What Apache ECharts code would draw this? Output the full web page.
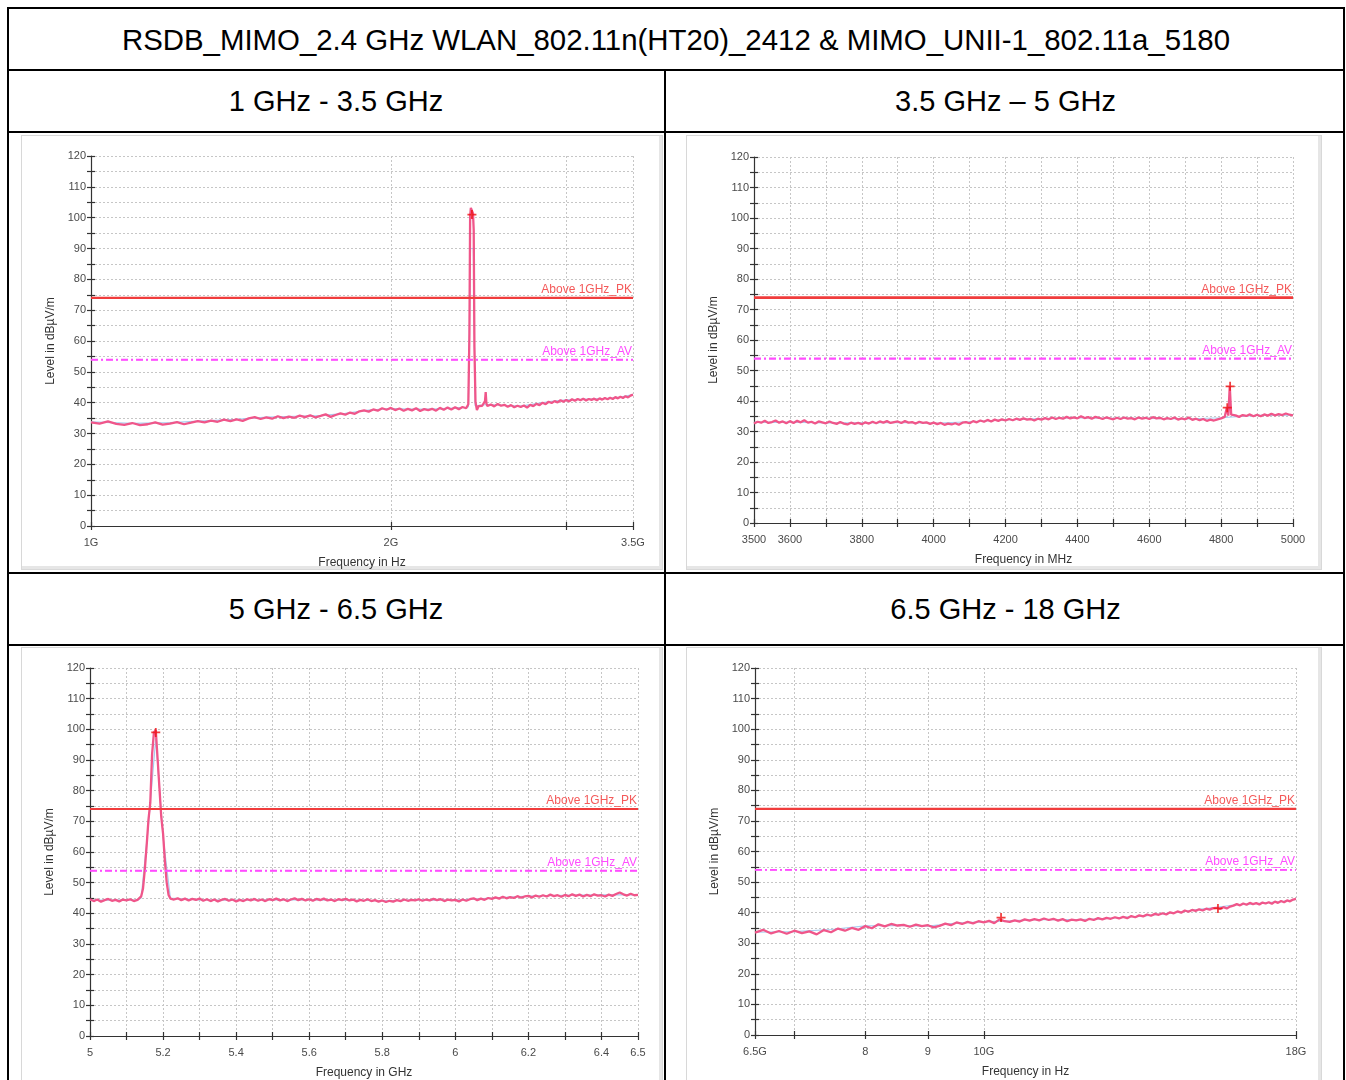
<!DOCTYPE html>
<html><head><meta charset="utf-8">
<script src="https://cdn.jsdelivr.net/npm/echarts@6/dist/echarts.min.js"></script>
<style>
body{margin:0;background:#fff;font-family:Arial,"Liberation Sans",sans-serif;}
#page{position:relative;width:1346px;height:1080px;overflow:hidden;background:#fff;}
.ln{position:absolute;background:#000;}
.txt{position:absolute;text-align:center;font-size:29px;color:#000;white-space:nowrap;font-family:Arial,"Liberation Sans",sans-serif;}
.panel{position:absolute;box-sizing:border-box;border:1px solid #d8d8d8;box-shadow:inset -3px -3px 0 #e6e6e6;background:#fff;}
.chart{position:absolute;}
</style></head><body><div id="page">
<div class="ln" style="left:7px;top:7px;width:1338px;height:2px"></div>
<div class="ln" style="left:7px;top:7px;width:2px;height:1080px"></div>
<div class="ln" style="left:1343px;top:7px;width:2px;height:1080px"></div>
<div class="ln" style="left:7px;top:69px;width:1338px;height:2px"></div>
<div class="ln" style="left:7px;top:131px;width:1338px;height:2px"></div>
<div class="ln" style="left:7px;top:572px;width:1338px;height:2px"></div>
<div class="ln" style="left:7px;top:644px;width:1338px;height:2px"></div>
<div class="ln" style="left:664px;top:69px;width:2px;height:1020px"></div>
<div class="txt" style="left:7px;top:9px;width:1338px;height:61px;line-height:61px;font-size:29.4px">RSDB_MIMO_2.4 GHz WLAN_802.11n(HT20)_2412 &amp; MIMO_UNII-1_802.11a_5180</div>
<div class="txt" style="left:7px;top:71px;width:658px;height:61px;line-height:61px">1 GHz - 3.5 GHz</div>
<div class="txt" style="left:666px;top:71px;width:679px;height:61px;line-height:61px">3.5 GHz – 5 GHz</div>
<div class="txt" style="left:7px;top:574px;width:658px;height:70px;line-height:70px">5 GHz - 6.5 GHz</div>
<div class="txt" style="left:666px;top:574px;width:679px;height:70px;line-height:70px">6.5 GHz - 18 GHz</div>
<div class="panel" style="left:21px;top:135px;width:642px;height:435px"></div>
<div class="panel" style="left:686px;top:135px;width:636px;height:435px"></div>
<div class="panel" style="left:21px;top:647px;width:642px;height:440px"></div>
<div class="panel" style="left:686px;top:647px;width:636px;height:440px"></div>
<div id="c1" class="chart" style="left:21px;top:135px;width:642px;height:435px"></div>
<div id="c2" class="chart" style="left:686px;top:135px;width:636px;height:435px"></div>
<div id="c3" class="chart" style="left:21px;top:647px;width:642px;height:440px"></div>
<div id="c4" class="chart" style="left:686px;top:647px;width:636px;height:440px"></div>
</div>
<script>
// ---------- limits ----------
const LIMIT_PK = 74;
const LIMIT_AV = 54;
const LIMIT_PK_NAME = 'Above 1GHz_PK';
const LIMIT_AV_NAME = 'Above 1GHz_AV';
const Y_TICKS = [0, 120];

// ---------- chart 1: 1 GHz - 3.5 GHz (MHz, log axis) ----------
const freq1 = [1000,1020,1040,1060,1080,1100,1120,1140,1160,1180,1200,1220,1240,1260,1280,1300,1320,1340,1360,1380,
1400,1420,1440,1460,1480,1500,1520,1540,1560,1580,1600,1620,1640,1660,1680,1700,1720,1740,1760,1780,
1800,1820,1840,1860,1880,1900,1920,1940,1960,1980,2000,2020,2040,2060,2080,2100,2120,2140,2160,2180,
2200,2220,2240,2260,2280,2300,2320,2340,2360,2380,
2392,2398,2402,2406,2410,2414,2418,2422,2426,2432,
2440,2450,2460,2470,2480,2486,2490,2494,2500,
2520,2540,2560,2580,2600,2620,2640,2660,2680,2700,2720,2740,2760,2780,2800,2820,2840,2860,2880,
2900,2920,2940,2960,2980,3000,3020,3040,3060,3080,3100,3120,3140,3160,3180,3200,3220,3240,3260,3280,
3300,3320,3340,3360,3380,3400,3420,3440,3460,3480,3500];
const level1 = [33.6,33.2,33.9,33.1,32.8,33.4,32.7,33.0,33.6,32.9,33.2,33.7,33.0,33.5,34.0,33.6,34.2,33.8,34.5,34.0,
34.6,34.1,34.9,35.3,34.7,35.2,34.8,35.6,35.0,35.5,35.1,35.8,35.3,35.9,35.2,35.7,36.2,35.4,36.0,36.5,
36.1,36.8,36.4,37.2,37.5,37.1,37.8,37.4,38.2,37.7,38.3,37.6,38.1,37.4,38.0,37.5,38.2,37.3,37.9,37.6,
38.0,37.4,38.3,37.7,38.4,37.8,38.5,37.9,38.6,38.2,
39.5,62.0,100.5,103.2,102.6,103.8,101.4,96.0,58.0,40.2,
37.6,38.9,38.3,39.0,38.6,40.5,43.4,39.8,38.9,
39.4,38.8,39.6,39.0,39.3,38.7,39.2,38.5,39.0,38.6,39.1,38.4,39.3,38.9,39.6,39.2,40.0,39.5,40.3,
39.9,40.5,40.1,40.8,40.3,40.9,40.4,41.1,40.6,41.2,40.8,41.3,40.7,41.2,40.9,41.3,40.8,41.4,41.0,41.5,
41.1,41.6,41.2,41.8,41.4,41.9,41.5,42.1,41.7,42.3,42.6];
const blueFreq1 = [1000,1100,1200,1300,1400,1500,1600,1700,1800,1900,2000,2100,2200,2300,2380,2392,2404,2420,2430,2500,2600,2700,2800,2900,3000,3100,3200,3300,3400,3500];
const blueLevel1 = [33.8,33.3,33.5,34.1,34.6,35.3,35.6,35.8,36.5,37.6,38.1,37.9,37.9,38.2,38.5,38.6,90.0,90.0,39.0,39.4,39.1,38.9,39.7,40.4,40.9,41.1,41.2,41.4,41.8,42.6];
const markFreq1 = [2412];
const markLevel1 = [101];
const tickFreq1 = [1000,2000,3000,3500];
const labelFreq1 = [1000,2000,3500];

// ---------- chart 2: 3.5 GHz - 5 GHz (MHz, linear) ----------
const freq2 = [3500,3510,3520,3530,3540,3550,3560,3570,3580,3590,3600,3610,3620,3630,3640,3650,3660,3670,3680,3690,
3700,3710,3720,3730,3740,3750,3760,3770,3780,3790,3800,3810,3820,3830,3840,3850,3860,3870,3880,3890,
3900,3910,3920,3930,3940,3950,3960,3970,3980,3990,4000,4010,4020,4030,4040,4050,4060,4070,4080,4090,
4100,4110,4120,4130,4140,4150,4160,4170,4180,4190,4200,4210,4220,4230,4240,4250,4260,4270,4280,4290,
4300,4310,4320,4330,4340,4350,4360,4370,4380,4390,4400,4410,4420,4430,4440,4450,4460,4470,4480,4490,
4500,4510,4520,4530,4540,4550,4560,4570,4580,4590,4600,4610,4620,4630,4640,4650,4660,4670,4680,4690,
4700,4710,4720,4730,4740,4750,4760,4770,4780,4790,4800,4810,4816,4820,4824,4828,4832,
4840,4850,4860,4870,4880,4890,4900,4910,4920,4930,4940,4950,4960,4970,4980,4990,5000];
const level2 = [32.6,33.2,32.9,33.5,32.8,33.1,33.6,32.9,33.3,32.7,33.4,32.8,33.5,33.0,33.7,32.9,33.2,32.6,33.3,33.0,
32.7,33.3,32.8,32.5,33.1,32.6,32.3,32.9,32.5,32.8,32.4,33.0,32.6,33.2,32.7,33.3,32.9,33.4,32.8,33.1,
33.3,32.8,33.4,32.9,33.1,32.6,33.2,32.8,33.0,32.5,32.9,32.4,32.8,32.2,32.6,32.3,32.7,32.2,32.9,33.1,
32.7,33.4,33.0,33.6,33.2,33.8,33.3,33.9,33.5,34.0,33.6,34.1,33.7,34.2,33.8,34.3,33.9,34.1,33.6,34.2,
33.9,34.4,34.0,34.6,34.1,34.5,34.2,34.8,34.3,34.6,34.3,35.0,34.4,34.7,34.2,34.8,34.5,34.1,34.6,34.3,
34.0,34.5,34.1,34.6,34.2,34.4,34.0,34.6,34.2,34.5,34.1,34.7,34.3,34.5,34.0,34.4,34.1,34.6,33.9,34.3,
34.0,34.6,33.8,34.2,33.7,34.1,33.5,33.9,33.6,34.0,34.3,34.8,37.9,35.2,44.9,35.5,34.9,
35.3,34.8,35.4,35.1,35.6,35.0,35.5,35.0,35.6,35.2,35.8,35.3,35.7,35.4,35.9,35.5,35.3];
const blueFreq2 = [3500,3600,3700,3800,3900,4000,4100,4200,4300,4400,4500,4600,4700,4800,4900,5000];
const blueLevel2 = [33.0,33.1,32.8,32.8,33.0,32.7,33.2,33.8,34.2,34.5,34.3,34.3,34.1,34.5,35.3,35.4];
const markFreq2 = [4817,4825];
const markLevel2 = [37.8,44.8];

// ---------- chart 3: 5 GHz - 6.5 GHz (MHz, linear) ----------
const freq3 = [5000,5010,5020,5030,5040,5050,5060,5070,5080,5090,5100,5110,5120,5130,
5140,5145,5150,5155,5160,5165,5170,5175,5180,5185,5190,5195,5200,5205,5210,5215,5220,
5230,5240,5250,5260,5270,5280,5290,5300,5310,5320,5330,5340,5350,5360,5370,5380,5390,
5400,5410,5420,5430,5440,5450,5460,5470,5480,5490,5500,5510,5520,5530,5540,5550,5560,5570,5580,5590,
5600,5610,5620,5630,5640,5650,5660,5670,5680,5690,5700,5710,5720,5730,5740,5750,5760,5770,5780,5790,
5800,5810,5820,5830,5840,5850,5860,5870,5880,5890,5900,5910,5920,5930,5940,5950,5960,5970,5980,5990,
6000,6010,6020,6030,6040,6050,6060,6070,6080,6090,6100,6110,6120,6130,6140,6150,6160,6170,6180,6190,
6200,6210,6220,6230,6240,6250,6260,6270,6280,6290,6300,6310,6320,6330,6340,6350,6360,6370,6380,6390,
6400,6410,6420,6430,6440,6450,6460,6470,6480,6490,6500];
const level3 = [44.6,44.0,44.5,43.8,44.3,44.7,44.1,44.4,43.9,44.5,44.2,44.6,44.0,44.4,
45.5,48.0,54.2,62.0,70.5,76.0,92.0,99.0,99.8,90.5,81.0,71.5,66.0,57.0,50.0,46.0,44.8,
44.5,44.9,44.3,44.8,44.2,44.7,44.4,44.8,44.1,44.6,44.0,44.5,43.9,44.4,44.7,44.1,44.5,
43.9,44.4,44.0,44.6,44.2,44.7,44.1,44.5,44.0,44.6,44.3,44.8,44.2,44.6,44.0,44.5,44.9,44.3,44.7,44.2,
44.6,44.1,44.7,44.3,44.8,44.2,44.5,44.0,44.6,44.3,44.7,44.2,44.5,43.9,44.4,44.1,44.6,44.0,44.3,43.8,
44.2,43.7,44.1,43.8,44.3,44.0,44.5,44.1,44.4,44.2,44.6,44.1,44.5,44.2,44.7,44.3,44.6,44.0,44.5,44.2,
44.4,43.9,44.5,44.1,44.6,44.9,44.3,44.8,44.4,45.0,44.7,45.2,44.8,45.4,44.9,45.3,45.0,45.6,45.1,45.5,
45.7,45.2,45.8,45.4,45.9,45.5,46.1,45.6,45.9,45.4,46.0,45.6,46.2,45.7,46.1,45.5,46.0,45.6,46.2,45.8,
45.9,45.5,46.1,45.7,46.3,46.8,46.2,45.8,46.4,45.9,46.0];
const blueFreq3 = [5000,5100,5130,5140,5160,5180,5200,5220,5300,5400,5500,5600,5700,5800,5900,6000,6100,6200,6300,6400,6500];
const blueLevel3 = [44.3,44.3,44.3,45.0,69.0,97.0,65.0,45.0,44.4,44.3,44.4,44.4,44.3,44.1,44.4,44.3,45.0,45.6,45.9,46.0,46.0];
const markFreq3 = [5180];
const markLevel3 = [99];

// ---------- chart 4: 6.5 GHz - 18 GHz (MHz, log axis) ----------
const freq4 = [6500,6600,6700,6800,6900,7000,7100,7200,7300,7400,7500,7600,7700,7800,7900,
8000,8100,8200,8300,8400,8500,8600,8700,8800,8900,9000,9100,9200,9300,9400,9500,9600,9700,9800,9900,
10000,10100,10200,10300,10400,10500,10600,10700,10800,10900,11000,11100,11200,11300,11400,11500,11600,11700,11800,11900,
12000,12100,12200,12300,12400,12500,12600,12700,12800,12900,13000,13100,13200,13300,13400,13500,13600,13700,13800,13900,
14000,14100,14200,14300,14400,14500,14600,14700,14800,14900,15000,15100,15200,15300,15400,15500,15600,15700,15800,15900,
16000,16100,16200,16300,16400,16500,16600,16700,16800,16900,17000,17100,17200,17300,17400,17500,17600,17700,17800,17900,18000];
const level4 = [33.5,34.4,33.2,34.0,33.1,34.1,33.3,33.9,32.9,34.3,33.6,34.8,34.1,35.0,34.4,
35.6,34.9,36.2,35.5,36.3,35.8,36.0,35.4,36.1,35.6,35.9,35.2,35.7,36.4,35.9,36.8,36.3,37.0,36.5,37.2,
36.8,37.3,36.6,37.8,37.2,37.0,37.5,37.1,37.8,37.4,37.9,37.5,38.1,37.6,38.0,37.4,37.9,37.2,37.7,37.5,
37.8,37.3,38.0,37.6,38.2,37.8,38.3,38.0,38.5,38.1,38.6,38.2,38.9,38.5,39.1,38.8,39.4,39.0,39.6,39.3,
39.8,39.4,40.1,39.8,40.4,40.0,40.7,40.3,40.9,40.6,41.1,40.7,41.3,41.0,41.5,41.6,41.2,41.8,41.4,42.0,
42.3,42.8,42.4,43.0,42.6,43.2,42.8,43.1,42.7,43.3,43.0,43.4,42.9,43.6,43.2,43.8,43.4,44.0,43.7,44.3,44.5];
const blueFreq4 = [6500,7000,7500,8000,8500,9000,9500,10000,10500,11000,11500,12000,12500,13000,13500,14000,14500,15000,15500,16000,16500,17000,17500,18000];
const blueLevel4 = [33.6,33.8,34.5,35.7,35.8,35.6,36.6,37.0,37.3,37.7,37.7,37.7,38.0,38.5,38.9,39.6,40.3,41.1,41.7,42.5,42.8,43.2,43.6,44.3];
const markFreq4 = [10330,15540];
const markLevel4 = [38.4,41.4];
const tickFreq4 = [6500,7000,8000,9000,10000,18000];
const labelFreq4 = [6500,8000,9000,10000,18000];

// ---------- styling / builders ----------
const FONT = 'Arial, "Liberation Sans", sans-serif';
const AXIS_C = '#333';
const LABEL_C = '#4a4a4a';
const GRID_LINE = {show:true, lineStyle:{color:'#c6c6c6', type:[2,2], width:1}};
const STAR = 'path://M4,0L6,0L6,4L10,4L10,6L6,6L6,10L4,10L4,6L0,6L0,4L4,4Z';

function yAxes(){
  const base = {type:'value', min:Y_TICKS[0], max:Y_TICKS[1], interval:5, position:'left'};
  return [
    Object.assign({}, base, {
      name:'Level in dBµV/m', nameLocation:'middle', nameGap:31,
      nameTextStyle:{fontSize:12, color:'#333', fontFamily:FONT},
      axisLine:{show:true, lineStyle:{color:AXIS_C, width:1.2}},
      axisTick:{show:true, length:4, lineStyle:{color:AXIS_C, width:1.2}},
      axisLabel:{fontSize:11, color:LABEL_C, fontFamily:FONT, margin:5,
        formatter: v => (Math.round(v) % 10 === 0 ? String(Math.round(v)) : '')},
      splitLine: GRID_LINE
    }),
    Object.assign({}, base, {
      axisLine:{show:false},
      axisTick:{show:true, inside:true, length:4, lineStyle:{color:AXIS_C, width:1.2}},
      axisLabel:{show:false}, splitLine:{show:false}
    })
  ];
}

function xAxes(cfg){
  const common = {type:cfg.type, min:cfg.min, max:cfg.max, position:'bottom'};
  if (cfg.type === 'log') common.logBase = 10;
  if (cfg.interval) common.interval = cfg.interval;
  const tick = {show:true, length:4, lineStyle:{color:AXIS_C, width:1.2}};
  if (cfg.tickValues) tick.customValues = cfg.tickValues;
  const label = {fontSize:11, color:LABEL_C, fontFamily:FONT, margin:11, formatter:cfg.formatter};
  if (cfg.labelValues) label.customValues = cfg.labelValues;
  return [
    Object.assign({}, common, {
      name:cfg.name, nameLocation:'middle', nameGap:31,
      nameTextStyle:{fontSize:12, color:'#333', fontFamily:FONT},
      axisLine:{show:true, onZero:false, lineStyle:{color:AXIS_C, width:1.2}},
      axisTick:tick, axisLabel:label, splitLine:GRID_LINE
    }),
    Object.assign({}, common, {
      axisLine:{show:false},
      axisTick:Object.assign({}, tick, {inside:true}),
      axisLabel:{show:false}, splitLine:{show:false}
    })
  ];
}

function pairs(xs, ys){ return xs.map((x, i) => [x, ys[i]]); }

function limitSeries(fr, value, name, color, textColor, width, type){
  const style = {color:color, width:width, type:type};
  return {
    type:'line', data:[[fr[0], value], [fr[fr.length - 1], value]], symbol:'none', silent:true, z:4,
    lineStyle:style,
    markLine:{silent:true, symbol:['none','none'], lineStyle:style, animation:false,
      label:{show:true, position:'insideEndTop', formatter:name, color:textColor, fontSize:12, fontFamily:FONT, distance:[1,2]},
      data:[{yAxis:value}]}
  };
}

function buildOption(grid, xcfg, fr, lv, bf, bl, mf, ml){
  return {
    animation:false,
    grid:Object.assign({outerBoundsMode:'none', containLabel:false}, grid),
    xAxis:xAxes(xcfg),
    yAxis:yAxes(),
    series:[
      {type:'line', data:pairs(bf, bl), symbol:'none', lineStyle:{color:'#a8cdf0', width:1.2}, z:2, silent:true},
      {type:'line', data:pairs(fr, lv), symbol:'none', lineStyle:{color:'#f0568a', width:2.3}, z:3, silent:true},
      limitSeries(fr, LIMIT_PK, LIMIT_PK_NAME, '#f03c3c', '#f45a5a', 2, 'solid'),
      limitSeries(fr, LIMIT_AV, LIMIT_AV_NAME, '#ff4cff', '#ff4cff', 1.5, [7,3,2,3]),
      {type:'scatter', data:pairs(mf, ml), symbol:STAR, symbolSize:9, itemStyle:{color:'#ee1010'}, z:6, silent:true}
    ]
  };
}

const fmtG1 = v => (Math.round(v) / 1000) + 'G';
const fmtG4 = v => { const r = Math.round(v); return (r === 8000 || r === 9000) ? String(r / 1000) : (r / 1000) + 'G'; };
const fmt2 = v => { const r = Math.round(v); return (r === 3500 || r % 200 === 0) ? String(r) : ''; };
const fmt3 = v => { const r = Math.round(v); return (r === 6500 || r % 200 === 0) ? String(r / 1000) : ''; };

const charts = [
  ['c1', {left:70, top:21, width:542, height:370},
    {type:'log', min:1000, max:3500, tickValues:tickFreq1, labelValues:labelFreq1, formatter:fmtG1, name:'Frequency in Hz'},
    freq1, level1, blueFreq1, blueLevel1, markFreq1, markLevel1],
  ['c2', {left:68, top:22, width:539, height:366},
    {type:'value', min:3500, max:5000, interval:100, formatter:fmt2, name:'Frequency in MHz'},
    freq2, level2, blueFreq2, blueLevel2, markFreq2, markLevel2],
  ['c3', {left:69, top:21, width:548, height:368},
    {type:'value', min:5000, max:6500, interval:100, formatter:fmt3, name:'Frequency in GHz'},
    freq3, level3, blueFreq3, blueLevel3, markFreq3, markLevel3],
  ['c4', {left:69, top:21, width:541, height:367},
    {type:'log', min:6500, max:18000, tickValues:tickFreq4, labelValues:labelFreq4, formatter:fmtG4, name:'Frequency in Hz'},
    freq4, level4, blueFreq4, blueLevel4, markFreq4, markLevel4]
];
charts.forEach(c => {
  const inst = echarts.init(document.getElementById(c[0]), null, {renderer:'canvas'});
  inst.setOption(buildOption(c[1], c[2], c[3], c[4], c[5], c[6], c[7], c[8]));
});
</script>
</body></html>
